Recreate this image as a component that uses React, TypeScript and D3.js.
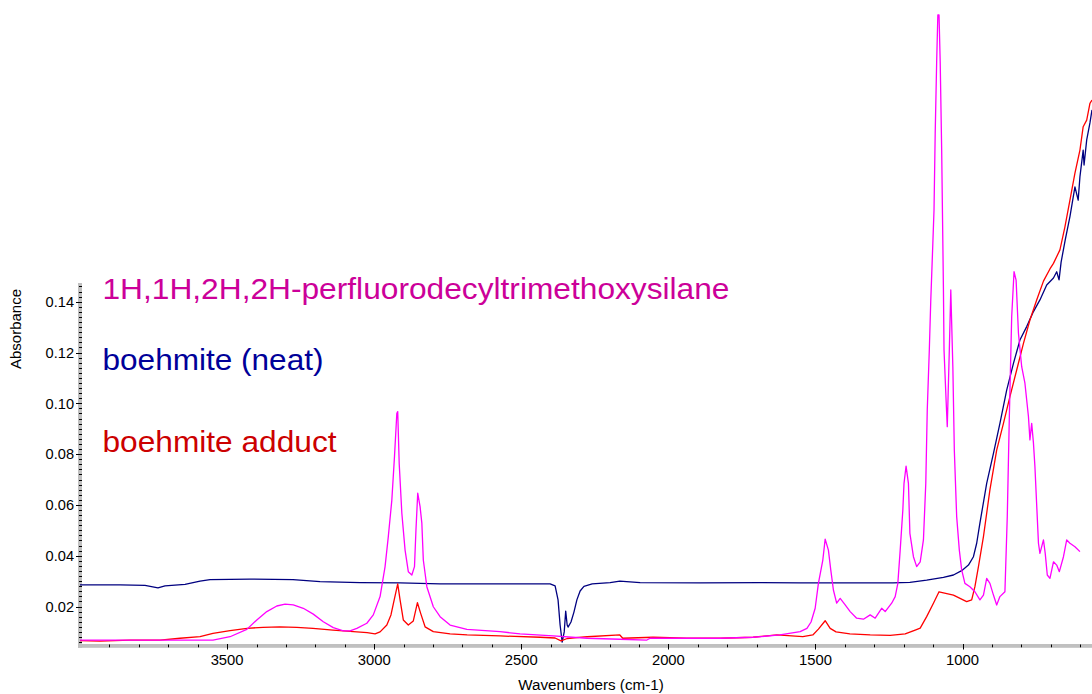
import React from "react";
import * as d3 from "d3";

// ---- data (wavenumber cm-1, absorbance) ----
const boehmiteNeat: [number, number][] = [
  [4000,0.0285],[3864,0.0285],[3779,0.0283],[3735,0.0273],[3711,0.0281],[3643,0.0287],[3592,0.0300],[3558,0.0306],
  [3422,0.0308],[3276,0.0306],[3184,0.0298],[3048,0.0294],[2912,0.0293],[2776,0.0289],[2572,0.0289],[2402,0.0289],
  [2385,0.0281],[2375,0.0226],[2368,0.0127],[2361,0.0060],[2354,0.0100],[2349,0.0182],[2344,0.0127],[2341,0.0119],
  [2331,0.0139],[2321,0.0178],[2311,0.0226],[2300,0.0261],[2287,0.0279],[2259,0.0289],[2198,0.0294],[2165,0.0300],
  [2096,0.0294],[1892,0.0293],[1688,0.0294],[1552,0.0293],[1237,0.0293],[1179,0.0295],[1122,0.0304],[1065,0.0315],
  [1031,0.0324],[1003,0.0341],[980,0.0363],[963,0.0396],[952,0.0449],[941,0.0528],[918,0.0685],[895,0.0803],
  [873,0.0921],[850,0.1052],[827,0.1157],[805,0.1249],[782,0.1302],[759,0.1361],[737,0.1407],[714,0.1466],
  [691,0.1493],[680,0.1518],[672,0.1486],[665,0.1556],[651,0.1643],[635,0.1735],[618,0.1852],[607,0.1800],
  [601,0.1892],[590,0.1997],[587,0.1938],[578,0.2037],[567,0.2104],[560,0.2155]
];

const boehmiteAdduct: [number, number][] = [
  [4000,0.0066],[3932,0.0064],[3830,0.0068],[3728,0.0068],[3660,0.0075],[3592,0.0081],[3548,0.0094],[3490,0.0105],
  [3432,0.0114],[3378,0.0118],[3321,0.0120],[3263,0.0118],[3208,0.0114],[3140,0.0107],[3082,0.0102],[3024,0.0097],
  [2997,0.0092],[2980,0.0100],[2957,0.0127],[2943,0.0167],[2932,0.0226],[2920,0.0289],[2912,0.0226],[2901,0.0147],
  [2884,0.0127],[2867,0.0143],[2853,0.0215],[2842,0.0173],[2827,0.0120],[2799,0.0101],[2742,0.0092],[2684,0.0088],
  [2572,0.0084],[2436,0.0079],[2385,0.0076],[2365,0.0065],[2344,0.0074],[2276,0.0081],[2165,0.0088],[2155,0.0075],
  [2052,0.0079],[1937,0.0075],[1824,0.0075],[1712,0.0079],[1631,0.0088],[1543,0.0081],[1509,0.0088],[1490,0.0111],
  [1467,0.0144],[1450,0.0114],[1430,0.0100],[1383,0.0092],[1314,0.0088],[1246,0.0086],[1195,0.0092],[1161,0.0107],
  [1144,0.0115],[1122,0.0160],[1099,0.0213],[1080,0.0258],[1031,0.0245],[986,0.0219],[969,0.0226],[958,0.0278],
  [946,0.0357],[929,0.0475],[907,0.0659],[884,0.0816],[861,0.0921],[839,0.1026],[816,0.1131],[793,0.1236],
  [771,0.1328],[748,0.1407],[725,0.1481],[703,0.1529],[691,0.1551],[669,0.1604],[652,0.1695],[635,0.1800],
  [618,0.1906],[601,0.1997],[590,0.2089],[578,0.2115],[567,0.2181],[560,0.2194]
];

const silane: [number, number][] = [
  [4000,0.0068],[3762,0.0068],[3548,0.0068],[3490,0.0081],[3433,0.0110],[3399,0.0147],[3365,0.0180],[3331,0.0202],
  [3303,0.0209],[3275,0.0206],[3241,0.0193],[3207,0.0170],[3173,0.0140],[3139,0.0117],[3105,0.0104],[3082,0.0104],
  [3059,0.0114],[3025,0.0134],[3003,0.0167],[2980,0.0239],[2963,0.0357],[2952,0.0475],[2940,0.0619],[2931,0.0790],
  [2923,0.0961],[2920,0.0967],[2915,0.0764],[2906,0.0567],[2895,0.0422],[2884,0.0337],[2872,0.0324],[2863,0.0357],
  [2858,0.0501],[2852,0.0646],[2844,0.0593],[2838,0.0528],[2833,0.0383],[2821,0.0278],[2799,0.0199],[2776,0.0160],
  [2742,0.0127],[2685,0.0110],[2572,0.0101],[2504,0.0092],[2392,0.0084],[2276,0.0075],[2165,0.0071],[2073,0.0068],
  [2062,0.0075],[1937,0.0075],[1824,0.0075],[1712,0.0079],[1621,0.0088],[1552,0.0101],[1529,0.0114],[1515,0.0139],
  [1501,0.0193],[1490,0.0291],[1475,0.0383],[1467,0.0465],[1456,0.0422],[1448,0.0344],[1439,0.0265],[1428,0.0213],
  [1416,0.0232],[1399,0.0206],[1382,0.0180],[1360,0.0154],[1337,0.0150],[1314,0.0167],[1297,0.0154],[1275,0.0193],
  [1263,0.0180],[1241,0.0213],[1229,0.0239],[1220,0.0291],[1212,0.0422],[1203,0.0580],[1199,0.0685],[1192,0.0753],
  [1184,0.0685],[1179,0.0488],[1167,0.0396],[1156,0.0357],[1144,0.0376],[1133,0.0462],[1125,0.0685],[1120,0.0974],
  [1113,0.1210],[1108,0.1407],[1101,0.1630],[1097,0.1761],[1093,0.2063],[1088,0.2345],[1084,0.2529],[1080,0.2529],
  [1076,0.2345],[1071,0.1997],[1068,0.1722],[1065,0.1446],[1063,0.1210],[1056,0.1013],[1052,0.0908],[1045,0.1210],
  [1040,0.1446],[1033,0.1144],[1028,0.0816],[1020,0.0554],[1011,0.0422],[1003,0.0344],[992,0.0291],[975,0.0278],
  [958,0.0258],[941,0.0226],[929,0.0245],[918,0.0311],[907,0.0291],[895,0.0245],[884,0.0206],[873,0.0239],
  [856,0.0258],[848,0.0554],[841,0.0947],[833,0.1341],[825,0.1518],[818,0.1485],[810,0.1276],[799,0.1144],
  [788,0.1079],[776,0.0947],[771,0.0856],[765,0.0921],[759,0.0843],[754,0.0750],[742,0.0449],[737,0.0409],
  [725,0.0462],[719,0.0409],[712,0.0324],[703,0.0311],[691,0.0376],[680,0.0363],[671,0.0337],[657,0.0396],
  [646,0.0462],[635,0.0449],[618,0.0435],[601,0.0416]
];

const xMajorTicks = [3500, 3000, 2500, 2000, 1500, 1000];
const yMajorTicks = [0.02, 0.04, 0.06, 0.08, 0.10, 0.12, 0.14];
const legendLabels = [
  "1H,1H,2H,2H-perfluorodecyltrimethoxysilane",
  "boehmite (neat)",
  "boehmite adduct",
];

export default function App() {
  const W = 1092, H = 694;
  const x = d3.scaleLinear().domain([4000, 560]).range([80, 1092]);
  const y = d3.scaleLinear().domain([0, 0.14]).range([657.3, 301.7]);
  const line = d3.line<[number, number]>().x(d => x(d[0])).y(d => y(d[1]));

  const xMinor = d3.range(3900, 550, -100);
  const yMinor = d3.range(0.006, 0.1465, 0.002);
  const font = "'Liberation Sans', Arial, sans-serif";

  const series = [
    { data: boehmiteNeat, color: "#000080" },
    { data: boehmiteAdduct, color: "#FF0000" },
    { data: silane, color: "#FF00FF" },
  ];
  const legend = [
    { text: legendLabels[0], color: "#CC0099", yb: 299, len: 627 },
    { text: legendLabels[1], color: "#000099", yb: 370, len: 221 },
    { text: legendLabels[2], color: "#CC0000", yb: 451.5, len: 234 },
  ];

  return (
    <svg width={W} height={H} style={{ position: "absolute", left: 0, top: 0, background: "#fff" }} fontFamily={font}>
      <defs>
        <clipPath id="plot">
          <rect x={80} y={0} width={1012} height={644} />
        </clipPath>
      </defs>
      {/* axes bars */}
      <rect x={78} y={283} width={4} height={365} fill="#C0C0C0" />
      <rect x={78} y={644} width={1014} height={3.8} fill="#C0C0C0" />
      {yMinor.map((v, i) => (
        <line key={"ym" + i} x1={79} x2={82} y1={Math.round(y(v)) + 0.5} y2={Math.round(y(v)) + 0.5} stroke="#000" strokeWidth={1} />
      ))}
      {yMajorTicks.map((v, i) => (
        <g key={"yM" + i}>
          <line x1={76} x2={82} y1={Math.round(y(v)) + 0.5} y2={Math.round(y(v)) + 0.5} stroke="#000" strokeWidth={1} />
          <text x={74} y={y(v) + 5.3} fontSize={14.6} textAnchor="end" fill="#000">{v.toFixed(2)}</text>
        </g>
      ))}
      {xMinor.map((v, i) => (
        <line key={"xm" + i} x1={Math.round(x(v)) + 0.5} x2={Math.round(x(v)) + 0.5} y1={644.5} y2={647.3} stroke="#000" strokeWidth={1} />
      ))}
      {xMajorTicks.map((v, i) => (
        <g key={"xM" + i}>
          <line x1={Math.round(x(v)) + 0.5} x2={Math.round(x(v)) + 0.5} y1={644} y2={649.5} stroke="#000" strokeWidth={1} />
          <text x={x(v)} y={665.3} fontSize={14.8} textAnchor="middle" fill="#000">{v}</text>
        </g>
      ))}
      <text x={591} y={690} fontSize={15.2} textAnchor="middle" fill="#000">Wavenumbers (cm-1)</text>
      <text transform="translate(21,329) rotate(-90)" fontSize={15} textAnchor="middle" fill="#000">Absorbance</text>

      {/* spectra */}
      <g clipPath="url(#plot)">
        {series.map((s, i) => (
          <path key={i} d={line(s.data) || ""} fill="none" stroke={s.color} strokeWidth={1.3} strokeLinejoin="round" />
        ))}
      </g>

      {legend.map((l, i) => (
        <text key={"lg" + i} x={102.5} y={l.yb} fontSize={29.5} fill={l.color} textLength={l.len} lengthAdjust="spacingAndGlyphs">{l.text}</text>
      ))}
    </svg>
  );
}
